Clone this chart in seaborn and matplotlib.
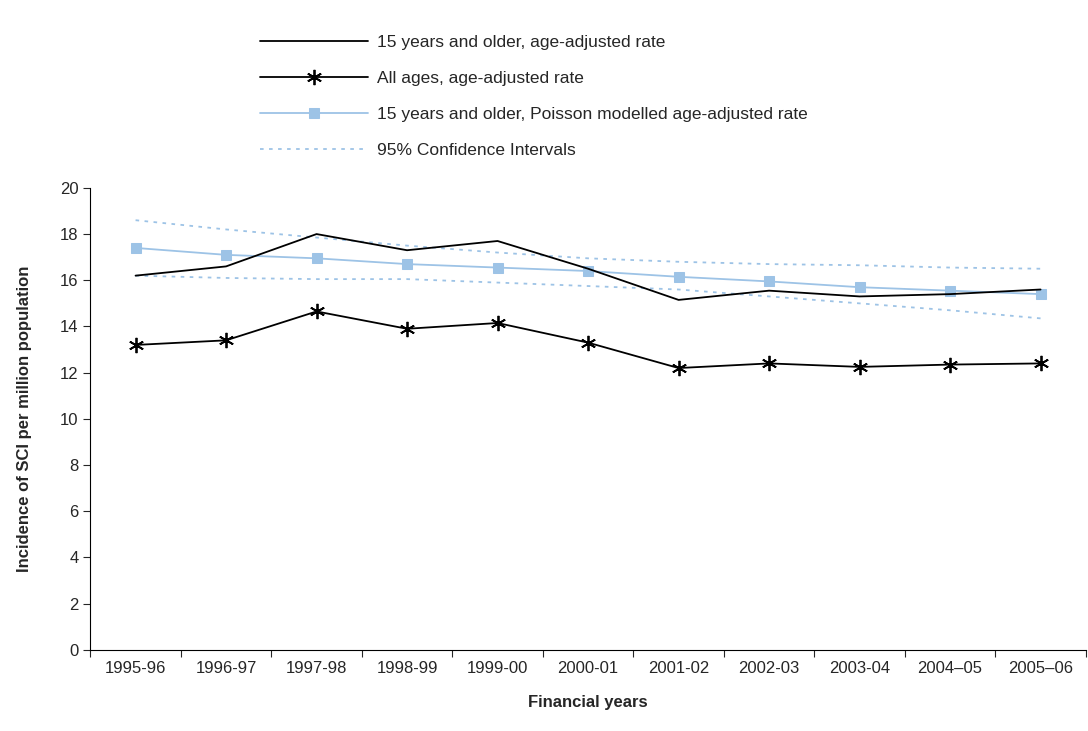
import numpy as np
import pandas as pd
import matplotlib
matplotlib.use("Agg")
import matplotlib.pyplot as plt
import seaborn as sns

years = ["1995-96", "1996-97", "1997-98", "1998-99", "1999-00", "2000-01",
         "2001-02", "2002-03", "2003-04", "2004–05", "2005–06"]
rate_15 = [16.2, 16.6, 18.0, 17.3, 17.7, 16.5, 15.15, 15.55, 15.3, 15.4, 15.6]
rate_all = [13.2, 13.4, 14.65, 13.9, 14.15, 13.3, 12.2, 12.4, 12.25, 12.35, 12.4]
poisson = [17.4, 17.1, 16.95, 16.7, 16.55, 16.4, 16.15, 15.95, 15.7, 15.55, 15.4]
ci_upper = [18.6, 18.2, 17.85, 17.5, 17.2, 16.95, 16.8, 16.7, 16.65, 16.55, 16.5]
ci_lower = [16.2, 16.1, 16.05, 16.05, 15.9, 15.75, 15.6, 15.3, 15.0, 14.7, 14.35]

df = pd.DataFrame({"x": np.arange(len(years)), "r15": rate_15, "rall": rate_all,
                   "pois": poisson, "up": ci_upper, "lo": ci_lower})

sns.set_style("white")
plt.rcParams["font.family"] = ["Liberation Sans", "DejaVu Sans"]

fig = plt.figure(figsize=(10.88, 7.31), dpi=100)
ax = fig.add_axes([0.083, 0.111, 0.915, 0.632])

blue = "#9dc3e6"
sns.lineplot(data=df, x="x", y="up", ax=ax, color=blue, lw=1.3, linestyle=(0, (2, 3)),
             label="95% Confidence Intervals")
sns.lineplot(data=df, x="x", y="lo", ax=ax, color=blue, lw=1.3, linestyle=(0, (2, 3)),
             label="_nolegend_")
sns.lineplot(data=df, x="x", y="pois", ax=ax, color=blue, lw=1.3, marker="s", markersize=7,
             markeredgecolor=blue, label="15 years and older, Poisson modelled age-adjusted rate")
sns.lineplot(data=df, x="x", y="rall", ax=ax, color="black", lw=1.3, marker=(6, 2, 0),
             markersize=11, markeredgewidth=1.3, markeredgecolor="black",
             markerfacecolor="black", label="All ages, age-adjusted rate")
sns.lineplot(data=df, x="x", y="r15", ax=ax, color="black", lw=1.3,
             label="15 years and older, age-adjusted rate")

h, l = ax.get_legend_handles_labels()
order = [3, 2, 1, 0]
ax.legend([h[i] for i in order], [l[i] for i in order], loc="lower left",
          bbox_to_anchor=(0.155, 1.03), frameon=False, fontsize=12.5,
          handlelength=6.2, handletextpad=0.5, labelspacing=1.2)

ax.set_xlim(-0.5, len(years) - 0.5)
ax.set_ylim(0, 20)
ax.set_yticks(range(0, 21, 2))
ax.set_xticks(np.arange(-0.5, len(years)), minor=False)
ax.set_xticklabels([])
ax.set_xticks(np.arange(len(years)), minor=True)
ax.set_xticklabels(years, minor=True)
ax.tick_params(axis="x", which="major", length=5, direction="out", bottom=True)
ax.tick_params(axis="x", which="minor", length=0, pad=8, labelsize=12)
ax.tick_params(axis="y", length=5, direction="out", left=True, labelsize=12)
for s in ["top", "right"]:
    ax.spines[s].set_visible(False)
for s in ["left", "bottom"]:
    ax.spines[s].set_color("black")
ax.set_xlabel("Financial years", fontsize=12, weight="bold", labelpad=14)
ax.set_ylabel("Incidence of SCI per million population", fontsize=12, weight="bold",
              labelpad=20)

fig.savefig("out.png", dpi=100)
